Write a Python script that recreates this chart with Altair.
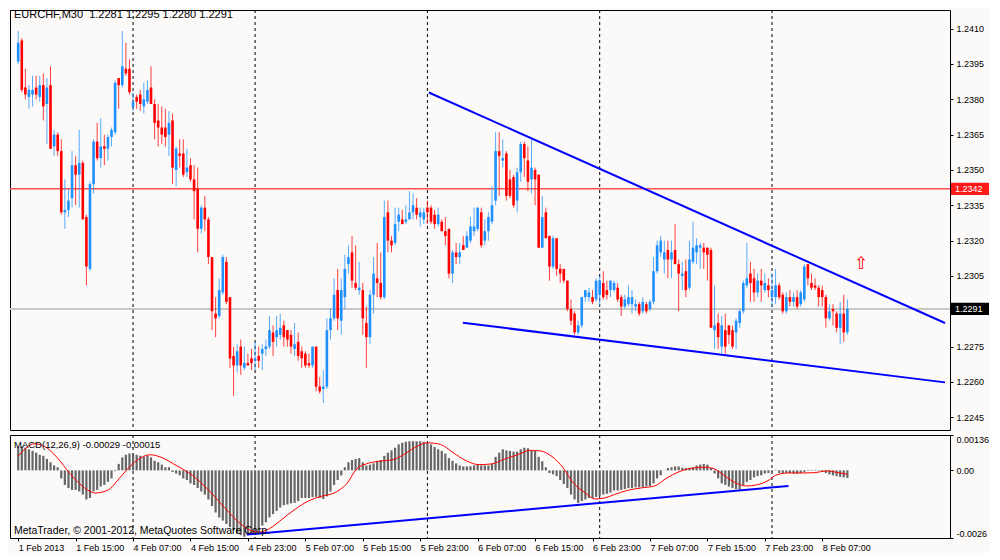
import json
import altair as alt
import pandas as pd

# ---------------- layout / style ----------------
W = 940
H_MAIN = 420
H_MACD = 103
BG = "#fcf9f9"
BLUE = "#1e90ff"
RED = "#ff0000"
FONT = "Liberation Sans"

# ---------------- data (prices in pips above 1.2200) ----------------
BASE = 1.2200
PIP = 0.0001

OPEN = [
    196, 205, 185, 181, 182, 185, 181, 186, 178, 186,
    160, 165, 158, 132, 133, 138, 152, 148, 153, 130,
    108, 144, 162, 155, 160, 159, 164, 166, 189, 186,
    193, 193, 177, 181, 182, 177, 179, 185, 178, 171,
    168, 168, 165, 171, 150, 157, 157, 149, 152, 146,
    142, 125, 134, 129, 113, 89, 88, 98, 111, 96,
    71, 67, 75, 66, 68, 70, 69, 71, 72, 74,
    75, 81, 79, 80, 84, 82, 80, 74, 77, 73,
    72, 68, 67, 75, 58, 57, 58, 82, 87, 99,
    86, 96, 110, 115, 102, 99, 99, 85, 79, 97,
    104, 102, 96, 132, 120, 119, 128, 129, 128, 129,
    132, 134, 130, 129, 134, 134, 131, 127, 128, 124,
    125, 106, 115, 113, 118, 117, 120, 124, 125, 132,
    120, 124, 128, 137, 158, 154, 157, 146, 147, 137,
    149, 161, 154, 146, 150, 148, 117, 132, 122, 109,
    121, 108, 108, 103, 91, 89, 81, 84, 96, 96,
    96, 95, 97, 102, 99, 99, 99, 100, 96, 92,
    93, 93, 92, 93, 90, 93, 91, 94, 107, 115,
    112, 116, 112, 116, 110, 105, 107, 100, 111, 115,
    117, 117, 117, 116, 82, 85, 75, 82, 84, 82,
    81, 85, 90, 101, 106, 104, 98, 103, 99, 101,
    96, 96, 101, 97, 90, 96, 94, 96, 93, 95,
    110, 102, 101, 100, 99, 96, 87, 91, 89, 83,
    89, 81,
]
HIGH = [
    209, 206, 193, 186, 190, 190, 190, 191, 189, 194,
    167, 166, 163, 146, 142, 158, 156, 167, 154, 131,
    145, 163, 170, 172, 165, 165, 168, 188, 189, 209,
    204, 197, 183, 182, 184, 187, 188, 194, 180, 178,
    177, 176, 175, 174, 160, 163, 163, 159, 155, 152,
    151, 135, 139, 130, 113, 96, 104, 114, 113, 96,
    75, 76, 78, 75, 72, 74, 77, 75, 76, 78,
    88, 84, 88, 89, 86, 82, 82, 85, 81, 75,
    73, 72, 75, 75, 62, 65, 87, 91, 104, 108,
    104, 114, 118, 122, 118, 111, 102, 92, 99, 113,
    119, 115, 137, 137, 122, 134, 134, 133, 135, 141,
    140, 138, 134, 134, 137, 135, 133, 134, 129, 130,
    125, 116, 119, 119, 122, 124, 130, 134, 134, 134,
    129, 132, 143, 166, 166, 163, 158, 150, 148, 151,
    162, 162, 160, 163, 151, 148, 139, 134, 122, 122,
    121, 110, 108, 103, 95, 90, 86, 96, 99, 100,
    99, 104, 105, 107, 103, 103, 103, 102, 97, 97,
    101, 99, 95, 94, 96, 94, 95, 113, 120, 122,
    120, 120, 120, 127, 112, 111, 112, 120, 128, 121,
    119, 119, 117, 117, 101, 89, 88, 89, 84, 84,
    87, 91, 103, 119, 111, 108, 106, 108, 106, 104,
    106, 108, 102, 98, 98, 99, 98, 99, 99, 110,
    110, 106, 104, 101, 101, 97, 93, 93, 90, 94,
    97, 95,
]
LOW = [
    195, 183, 180, 176, 177, 180, 179, 171, 161, 159,
    156, 156, 131, 125, 130, 134, 135, 134, 129, 101,
    107, 140, 154, 151, 152, 154, 160, 165, 176, 185,
    190, 182, 175, 176, 175, 174, 178, 178, 163, 160,
    161, 160, 156, 144, 143, 151, 147, 147, 145, 129,
    115, 123, 124, 110, 82, 79, 87, 97, 93, 66,
    54, 64, 63, 65, 67, 65, 65, 66, 65, 71,
    74, 71, 75, 78, 75, 75, 72, 71, 69, 66,
    66, 66, 66, 56, 55, 51, 57, 78, 86, 82,
    80, 91, 106, 100, 99, 97, 80, 66, 76, 89,
    96, 95, 95, 115, 115, 118, 124, 127, 127, 129,
    129, 129, 126, 127, 127, 127, 125, 126, 124, 118,
    104, 102, 110, 110, 116, 117, 119, 122, 124, 117,
    118, 120, 127, 135, 139, 151, 137, 138, 134, 132,
    145, 147, 141, 140, 135, 117, 117, 121, 103, 108,
    105, 102, 102, 90, 84, 80, 80, 83, 94, 94,
    93, 94, 92, 95, 95, 96, 98, 94, 88, 91,
    92, 89, 90, 88, 89, 89, 90, 93, 106, 113,
    106, 104, 104, 110, 90, 99, 96, 99, 110, 110,
    108, 108, 103, 83, 74, 74, 72, 72, 76, 74,
    74, 83, 89, 100, 94, 94, 96, 94, 98, 96,
    92, 93, 95, 89, 89, 92, 92, 91, 92, 94,
    101, 99, 99, 92, 92, 83, 86, 84, 81, 76,
    77, 80,
]
CLOSE = [
    204, 184, 182, 184, 184, 182, 186, 177, 185, 159,
    165, 158, 132, 133, 137, 152, 148, 153, 129, 109,
    144, 162, 155, 160, 159, 164, 167, 187, 186, 194,
    191, 183, 179, 179, 178, 180, 184, 178, 170, 168,
    165, 164, 170, 151, 159, 156, 148, 151, 146, 141,
    125, 134, 129, 113, 90, 87, 99, 113, 94, 70,
    67, 73, 67, 68, 67, 68, 70, 69, 74, 75,
    82, 77, 82, 83, 79, 78, 75, 76, 71, 70,
    67, 67, 75, 58, 56, 58, 82, 87, 97, 87,
    99, 108, 113, 103, 100, 100, 87, 79, 97, 106,
    102, 96, 130, 120, 118, 127, 131, 127, 129, 132,
    135, 131, 132, 132, 132, 128, 127, 131, 124, 122,
    106, 115, 113, 115, 116, 122, 126, 126, 134, 118,
    124, 130, 135, 158, 156, 155, 139, 139, 135, 149,
    161, 155, 145, 151, 146, 117, 130, 121, 109, 121,
    108, 106, 103, 91, 86, 81, 84, 96, 99, 98,
    94, 103, 103, 96, 97, 103, 102, 95, 92, 95,
    96, 96, 93, 89, 94, 90, 94, 107, 118, 120,
    115, 112, 115, 110, 106, 106, 99, 112, 117, 118,
    118, 115, 114, 83, 84, 79, 84, 75, 80, 75,
    86, 90, 102, 104, 102, 98, 103, 101, 102, 99,
    99, 101, 96, 90, 96, 94, 96, 92, 98, 109,
    104, 100, 100, 96, 96, 87, 90, 90, 83, 89,
    81, 91,
]

# MACD main (histogram), in units of 0.00001
MACD_MAIN = [
    90, 93, 87, 81, 75, 68, 60, 56, 44, 31,
    19, 12, -31, -56, -68, -75, -75, -81, -93, -112,
    -106, -81, -75, -62, -56, -44, -31, -3, 25, 50,
    60, 65, 65, 60, 56, 52, 56, 50, 37, 31,
    22, 12, 12, -6, -12, -19, -31, -37, -50, -56,
    -68, -81, -93, -112, -137, -162, -181, -193, -206, -218,
    -230, -243, -249, -255, -249, -243, -237, -230, -212, -199,
    -181, -168, -156, -143, -134, -131, -127, -125, -118, -106,
    -106, -106, -103, -102, -106, -110, -100, -81, -56, -37,
    -19, 12, 31, 40, 44, 47, 31, 19, 22, 27,
    37, 40, 56, 68, 77, 87, 100, 106, 110, 112,
    112, 112, 112, 110, 106, 100, 90, 81, 75, 65,
    47, 37, 27, 19, 15, 15, 16, 19, 22, 19,
    19, 19, 25, 52, 68, 81, 77, 75, 72, 72,
    81, 87, 85, 77, 75, 52, 35, 12, -10, -15,
    -22, -37, -52, -68, -93, -112, -125, -118, -112, -106,
    -106, -102, -97, -93, -90, -85, -77, -77, -75, -72,
    -68, -68, -65, -65, -65, -62, -60, -50, -31, -19,
    -1, 9, 12, 15, 15, 10, 9, 10, 12, 19,
    22, 25, 22, 9, -12, -31, -50, -56, -62, -68,
    -72, -75, -56, -44, -37, -27, -22, -19, -12, -10,
    -6, 2, -10, -10, -10, -10, -12, -12, -10, -6,
    -2, 2, 2, -2, -6, -10, -15, -19, -22, -25,
    -27, -29,
]

# MACD signal line, read at points (bar index, value in 0.00001)
SIG_IDX = [0, 4.5, 7.2, 10.8, 14.4, 18, 21.5, 25.1, 27.8, 30.5,
           33.2, 36.8, 39.5, 44, 48.5, 53, 57.5, 61.9, 64.6, 66.9,
           70, 73.6, 77.2, 80.8, 84.4, 88, 91.6, 94.3, 97, 100.5,
           104.1, 106.8, 110.4, 114, 117.6, 121.2, 124.8, 128.4, 131.9, 135.6,
           139.1, 142.7, 145.4, 149, 151.7, 154.4, 158, 160.7, 163.4, 166.1,
           169.7, 173.3, 177.3, 180.5, 184, 186.8, 191.2, 193.9, 196.6, 200.2,
           202.9, 205.6, 209.2, 211, 214.6, 218.2, 221.7, 225.3, 228.9, 231]
SIG_VAL = [55, 102, 93, 50, -12, -62, -87, -75, -37, 6,
           40, 60, 52, 19, -19, -75, -143, -205, -230, -237,
           -224, -187, -149, -118, -100, -87, -50, 6, 25, 35,
           40, 56, 87, 106, 100, 68, 37, 22, 25, 44,
           60, 77, 75, 50, 12, -44, -87, -110, -106, -93,
           -77, -68, -60, -31, -6, 6, 12, 6, -19, -50,
           -60, -56, -37, -19, -10, -10, -9, -2, -10, -15]

# trend lines (bar index, value)
UPPER_TL_X = [114.4, 258.2]
UPPER_TL_Y = [1.23829, 1.22850]
LOWER_TL_X = [123.9, 258.2]
LOWER_TL_Y = [1.22851, 1.22598]
MACD_TL_X = [63.7, 214.6]
MACD_TL_Y = [-0.00247, -0.00060]

RED_LEVEL = 1.2342
BID = 1.2291
ARROW_I = 234.8
ARROW_P = 1.2310

SEPARATORS = [32, 66, 114, 162, 210]
X_TICKS = [0, 16, 32, 48, 64, 80, 96, 112, 128, 144, 160, 176, 192, 208, 224]
X_LABELS = ["1 Feb 2013", "1 Feb 15:00", "4 Feb 07:00", "4 Feb 15:00", "4 Feb 23:00",
            "5 Feb 07:00", "5 Feb 15:00", "5 Feb 23:00", "6 Feb 07:00", "6 Feb 15:00",
            "6 Feb 23:00", "7 Feb 07:00", "7 Feb 15:00", "7 Feb 23:00", "8 Feb 07:00"]
# 1.2290 sits under the 1.2291 price badge and is not visible in the reference
PRICE_TICKS = [1.2245, 1.2260, 1.2275, 1.2305, 1.2320, 1.2335,
               1.2350, 1.2365, 1.2380, 1.2395, 1.2410]
MACD_TICKS = [0.00136, 0.0, -0.0026]
MACD_TICK_LABELS = ["0.00136", "0.00", "-0.0026"]

X_DOMAIN = [-0.89, 258.2]
PRICE_DOMAIN = [1.223958, 1.241792]
MACD_DOMAIN = [-0.0026, 0.00136]

HEADER = "EURCHF,M30 \u00a01.2281 1.2295 1.2280 1.2291"
MACD_HEADER = "MACD(12,26,9) -0.00029 -0.00015"
COPYRIGHT = "MetaTrader, \u00a9 2001-2012, MetaQuotes Software Corp."

# ---------------- frames ----------------
n = len(OPEN)
candles = pd.DataFrame({
    "i": list(range(n)),
    "o": [round(BASE + v * PIP, 4) for v in OPEN],
    "h": [round(BASE + v * PIP, 4) for v in HIGH],
    "l": [round(BASE + v * PIP, 4) for v in LOW],
    "c": [round(BASE + v * PIP, 4) for v in CLOSE],
    "dir": ["up" if c >= o else "down" for o, c in zip(OPEN, CLOSE)],
})
macd_df = pd.DataFrame({"i": list(range(n)), "m": [v * 1e-5 for v in MACD_MAIN], "z": [0.0] * n})
sig_df = pd.DataFrame({"i": SIG_IDX, "v": [v * 1e-5 for v in SIG_VAL]})
tl_df = pd.DataFrame({
    "x": UPPER_TL_X + LOWER_TL_X,
    "y": UPPER_TL_Y + LOWER_TL_Y,
    "id": ["upper", "upper", "lower", "lower"],
})
mtl_df = pd.DataFrame({"x": MACD_TL_X, "y": MACD_TL_Y})
sep_df = pd.DataFrame({"i": SEPARATORS})

# ---------------- scales / axes ----------------
xs = alt.Scale(domain=X_DOMAIN, nice=False, zero=False)
ys = alt.Scale(domain=PRICE_DOMAIN, nice=False, zero=False)
mys = alt.Scale(domain=MACD_DOMAIN, nice=False, zero=False)
cscale = alt.Scale(domain=["up", "down"], range=[BLUE, RED])

yax = alt.Axis(orient="right", values=PRICE_TICKS, format=".4f", title=None,
               tickSize=3, labelPadding=3, domain=False, grid=False, labelFlush=False,
               labelFontSize=9, labelFont=FONT, tickColor="black", labelColor="black")

macd_expr = "".join(
    f"abs(datum.value - ({v})) < 1e-9 ? '{lab}' : " for v, lab in zip(MACD_TICKS, MACD_TICK_LABELS)
) + "''"
myax = alt.Axis(orient="right", values=MACD_TICKS, labelExpr=macd_expr, title=None,
                tickSize=3, labelPadding=3, domain=False, grid=False, labelFlush=True,
                labelFontSize=9, labelFont=FONT, tickColor="black", labelColor="black")

xexpr = f"{json.dumps(X_LABELS)}[indexof({json.dumps(X_TICKS)}, datum.value)]"
xax = alt.Axis(values=X_TICKS, labelExpr=xexpr, title=None, labelAlign="left",
               labelPadding=2, tickSize=3, domain=False, grid=False, labelFlush=False,
               labelOverlap=False, labelFontSize=9, labelFont=FONT,
               tickColor="black", labelColor="black")


def XM(f):
    return alt.X(f, type="quantitative", scale=xs, axis=None)


def YM(f):
    return alt.Y(f, type="quantitative", scale=ys, axis=yax)


# ---------------- main panel ----------------
red_line = alt.Chart(pd.DataFrame({"p": [RED_LEVEL]})).mark_rule(
    color="#ff5050", strokeWidth=1.5).encode(y=YM("p"))
bid_line = alt.Chart(pd.DataFrame({"p": [BID]})).mark_rule(
    color="#c8c8c8", strokeWidth=2).encode(y=YM("p"))
seps = alt.Chart(sep_df).mark_rule(color="black", strokeDash=[3, 3], strokeWidth=1).encode(x=XM("i"))
wicks = alt.Chart(candles).mark_rule(strokeWidth=1, opacity=0.75).encode(
    x=XM("i"), y=YM("l"), y2="h:Q",
    color=alt.Color("dir:N", scale=cscale, legend=None))
bodies = alt.Chart(candles).mark_bar(width=2.6).encode(
    x=XM("i"), y=YM("o"), y2="c:Q",
    color=alt.Color("dir:N", scale=cscale, legend=None))
tlines = alt.Chart(tl_df).mark_line(color="#0000ff", strokeWidth=2, clip=True).encode(
    x=XM("x"), y=YM("y"), detail="id:N")
arrow = alt.Chart(pd.DataFrame({"i": [ARROW_I], "p": [ARROW_P]})).mark_text(
    text="\u21e7", font="DejaVu Sans", fontSize=17, color=RED).encode(x=XM("i"), y=YM("p"))
header = alt.Chart(pd.DataFrame({"t": [HEADER]})).mark_text(
    align="left", baseline="middle", font=FONT, fontSize=11, color="black").encode(
    x=alt.value(4), y=alt.value(5), text="t:N")

badge_df = pd.DataFrame({"p": [RED_LEVEL, BID], "lab": ["1.2342", "1.2291"],
                         "col": ["#ff1a1a", "#000000"]})
badges = alt.Chart(badge_df).mark_point(
    shape="M-1,-0.32L1,-0.32L1,0.32L-1,0.32Z", filled=True, size=1444, opacity=1,
    strokeWidth=0).encode(
    x=alt.value(W + 20), y=YM("p"), color=alt.Color("col:N", scale=None))
badge_txt = alt.Chart(badge_df).mark_text(
    align="left", baseline="middle", font=FONT, fontSize=9, color="white").encode(
    x=alt.value(W + 5), y=YM("p"), text="lab:N")

main = alt.layer(red_line, bid_line, seps, wicks, bodies, tlines, arrow, header,
                 badges, badge_txt).properties(width=W, height=H_MAIN)

# ---------------- MACD panel ----------------
XB = alt.X("i:Q", scale=xs, axis=xax)
hist = alt.Chart(macd_df).mark_bar(width=2.2, color="#666666").encode(
    x=XB, y=alt.Y("m:Q", scale=mys, axis=myax), y2="z:Q")
signal = alt.Chart(sig_df).mark_line(color=RED, strokeWidth=1, interpolate="monotone").encode(
    x=XB, y=alt.Y("v:Q", scale=mys, axis=myax))
mtl = alt.Chart(mtl_df).mark_line(color="#0000ff", strokeWidth=2).encode(
    x=alt.X("x:Q", scale=xs, axis=xax), y=alt.Y("y:Q", scale=mys, axis=myax))
seps2 = alt.Chart(sep_df).mark_rule(color="black", strokeDash=[3, 3], strokeWidth=1).encode(x=XB)
mhead = alt.Chart(pd.DataFrame({"t": [MACD_HEADER]})).mark_text(
    align="left", baseline="middle", font=FONT, fontSize=9.5, color="black").encode(
    x=alt.value(4), y=alt.value(10), text="t:N")
copy_txt = alt.Chart(pd.DataFrame({"t": [COPYRIGHT]})).mark_text(
    align="left", baseline="middle", font=FONT, fontSize=10.5, color="black").encode(
    x=alt.value(4), y=alt.value(H_MACD - 7), text="t:N")

macd = alt.layer(seps2, hist, signal, mtl, mhead, copy_txt).properties(width=W, height=H_MACD)

chart = alt.vconcat(main, macd, spacing=3).properties(
    background=BG, padding=0
).configure(font=FONT).configure_view(stroke="black", strokeWidth=1, fill=BG)

chart.save("out.html", embed_options={"renderer": "svg", "actions": False})
